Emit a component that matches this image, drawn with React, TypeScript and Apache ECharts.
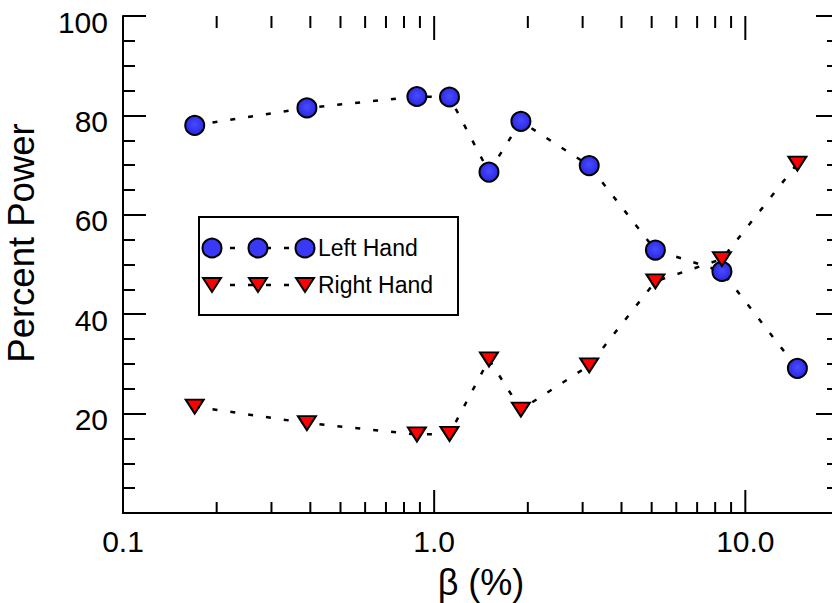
import React, { useEffect, useRef } from "react";
import * as echarts from "echarts";

const betaValues = [0.17, 0.39, 0.88, 1.12, 1.5, 1.9, 3.15, 5.14, 8.41, 14.7];
const leftHand = [78.0, 81.5, 83.8, 83.7, 68.6, 78.8, 69.9, 52.9, 48.6, 29.1];
const rightHand = [21.4, 18.1, 15.8, 15.9, 30.9, 20.8, 29.7, 46.6, 51.1, 70.3];
const xMajorTicks = [0.1, 1, 10];
const xMinorTicks = [0.2, 0.3, 0.4, 0.5, 0.6, 0.7, 0.8, 0.9, 2, 3, 4, 5, 6, 7, 8, 9];
const legendNames = ["Left Hand", "Right Hand"];
const xTitle = "β (%)";
const yTitle = "Percent Power";

const FONT = "'Liberation Sans', Arial, Helvetica, sans-serif";
const BLUE = "#3838f6";
const RED = "#ff0000";

export default function App() {
  const ref = useRef<HTMLDivElement>(null);
  useEffect(() => {
    if (!ref.current) return;
    const chart = echarts.init(ref.current, null, { renderer: "svg" });
    const tickStyle = { color: "#000", width: 2 };
    const dotted = { color: "#000", width: 2.5, type: [5, 13] as number[] };

    const legendRow = (y: number, kind: "circle" | "tri", label: string) => {
      const xs = [212, 258, 305];
      const children: any[] = [
        {
          type: "line",
          shape: { x1: xs[0], y1: y, x2: xs[2], y2: y },
          style: { stroke: "#000", lineWidth: 2.5, lineDash: [5, 13] },
        },
      ];
      xs.forEach((x) => {
        if (kind === "circle") {
          children.push({
            type: "circle",
            shape: { cx: x, cy: y, r: 9.5 },
            style: { fill: BLUE, stroke: "#000", lineWidth: 2 },
          });
        } else {
          children.push({
            type: "polygon",
            shape: { points: [[x - 9, y - 7], [x + 9, y - 7], [x, y + 7]] },
            style: { fill: RED, stroke: "#000", lineWidth: 2 },
          });
        }
      });
      children.push({
        type: "text",
        x: 318,
        y: y,
        style: {
          text: label,
          fontSize: 23,
          fontFamily: FONT,
          fill: "#000",
          verticalAlign: "middle",
          align: "left",
        },
      });
      return children;
    };

    const tickSeries = (name: string, values: number[], bottomLen: number, topLen: number) => ({
      name,
      type: "custom",
      xAxisIndex: 0,
      yAxisIndex: 0,
      silent: true,
      z: 5,
      data: values.map((v) => [v, 0]),
      renderItem: (params: any, api: any) => {
        const x = api.value(0);
        const pb = api.coord([x, 0]);
        const pt = api.coord([x, 100]);
        return {
          type: "group",
          children: [
            {
              type: "line",
              shape: { x1: pb[0], y1: pb[1], x2: pb[0], y2: pb[1] - bottomLen },
              style: { stroke: "#000", lineWidth: 2 },
            },
            {
              type: "line",
              shape: { x1: pt[0], y1: pt[1], x2: pt[0], y2: pt[1] + topLen },
              style: { stroke: "#000", lineWidth: 2 },
            },
          ],
        };
      },
    });

    const option: any = {
      animation: false,
      backgroundColor: "#fff",
      grid: {
        left: 123,
        top: 16,
        right: -7,
        bottom: 90,
        containLabel: false,
        outerBoundsMode: "none",
      },
      xAxis: [
        {
          type: "log",
          logBase: 10,
          min: 0.1,
          max: 20,
          position: "bottom",
          name: xTitle,
          nameLocation: "middle",
          nameGap: 51,
          nameTextStyle: { fontSize: 36, fontFamily: FONT, color: "#000" },
          axisLine: { show: true, lineStyle: tickStyle },
          axisTick: { show: false },
          splitLine: { show: false },
          axisLabel: {
            fontSize: 30,
            fontFamily: FONT,
            color: "#000",
            margin: 13,
            showMaxLabel: false,
            formatter: (v: number) => v.toFixed(1),
          },
        },
        {
          type: "log",
          logBase: 10,
          min: 0.1,
          max: 20,
          position: "top",
          axisLine: { show: true, lineStyle: tickStyle },
          axisTick: { show: false },
          splitLine: { show: false },
          axisLabel: { show: false },
        },
      ],
      yAxis: [
        {
          type: "value",
          min: 0,
          max: 100,
          interval: 20,
          position: "left",
          name: yTitle,
          nameLocation: "middle",
          nameGap: 83,
          nameTextStyle: {
            fontSize: 36.5,
            fontFamily: FONT,
            color: "#000",
            padding: [0, 0, 0, 43],
          },
          axisLine: { show: true, lineStyle: tickStyle },
          axisTick: { show: true, inside: true, length: 23, lineStyle: tickStyle },
          minorTick: { show: true, splitNumber: 4, length: 12, lineStyle: tickStyle },
          splitLine: { show: false },
          minorSplitLine: { show: false },
          axisLabel: {
            fontSize: 30,
            fontFamily: FONT,
            color: "#000",
            margin: 15,
            showMinLabel: false,
            verticalAlign: "top",
            lineHeight: 12,
          },
        },
        {
          type: "value",
          min: 0,
          max: 100,
          interval: 20,
          position: "right",
          axisLine: { show: true, lineStyle: tickStyle },
          axisTick: { show: true, inside: true, length: 23, lineStyle: tickStyle },
          minorTick: { show: true, splitNumber: 4, length: 12, lineStyle: tickStyle },
          splitLine: { show: false },
          minorSplitLine: { show: false },
          axisLabel: { show: false },
        },
      ],
      series: [
        tickSeries("majorTicks", xMajorTicks, 23, 24),
        tickSeries("minorTicks", xMinorTicks, 11, 12),
        {
          name: legendNames[0],
          type: "line",
          data: betaValues.map((b, i) => [b, leftHand[i]]),
          symbol: "circle",
          symbolSize: 19,
          lineStyle: dotted,
          itemStyle: {
            color: {
              type: "radial",
              x: 0.5,
              y: 0.45,
              r: 0.5,
              colorStops: [
                { offset: 0, color: "#4a4aff" },
                { offset: 1, color: "#2a2ae6" },
              ],
            },
            borderColor: "#000",
            borderWidth: 2,
          },
          z: 3,
        },
        {
          name: legendNames[1],
          type: "line",
          data: betaValues.map((b, i) => [b, rightHand[i]]),
          symbol: "triangle",
          symbolSize: [18, 14],
          symbolRotate: 180,
          lineStyle: dotted,
          itemStyle: { color: RED, borderColor: "#000", borderWidth: 2 },
          z: 3,
        },
      ],
      graphic: [
        {
          type: "group",
          z: 100,
          children: [
            {
              type: "rect",
              shape: { x: 199, y: 217, width: 259, height: 98 },
              style: { fill: "#fff", stroke: "#000", lineWidth: 2 },
            },
            ...legendRow(248, "circle", legendNames[0]),
            ...legendRow(285, "tri", legendNames[1]),
          ],
        },
      ],
    };
    chart.setOption(option);
    return () => chart.dispose();
  }, []);
  return (
    <div
      ref={ref}
      style={{ position: "fixed", left: 0, top: 0, width: 832, height: 603, background: "#fff" }}
    />
  );
}
